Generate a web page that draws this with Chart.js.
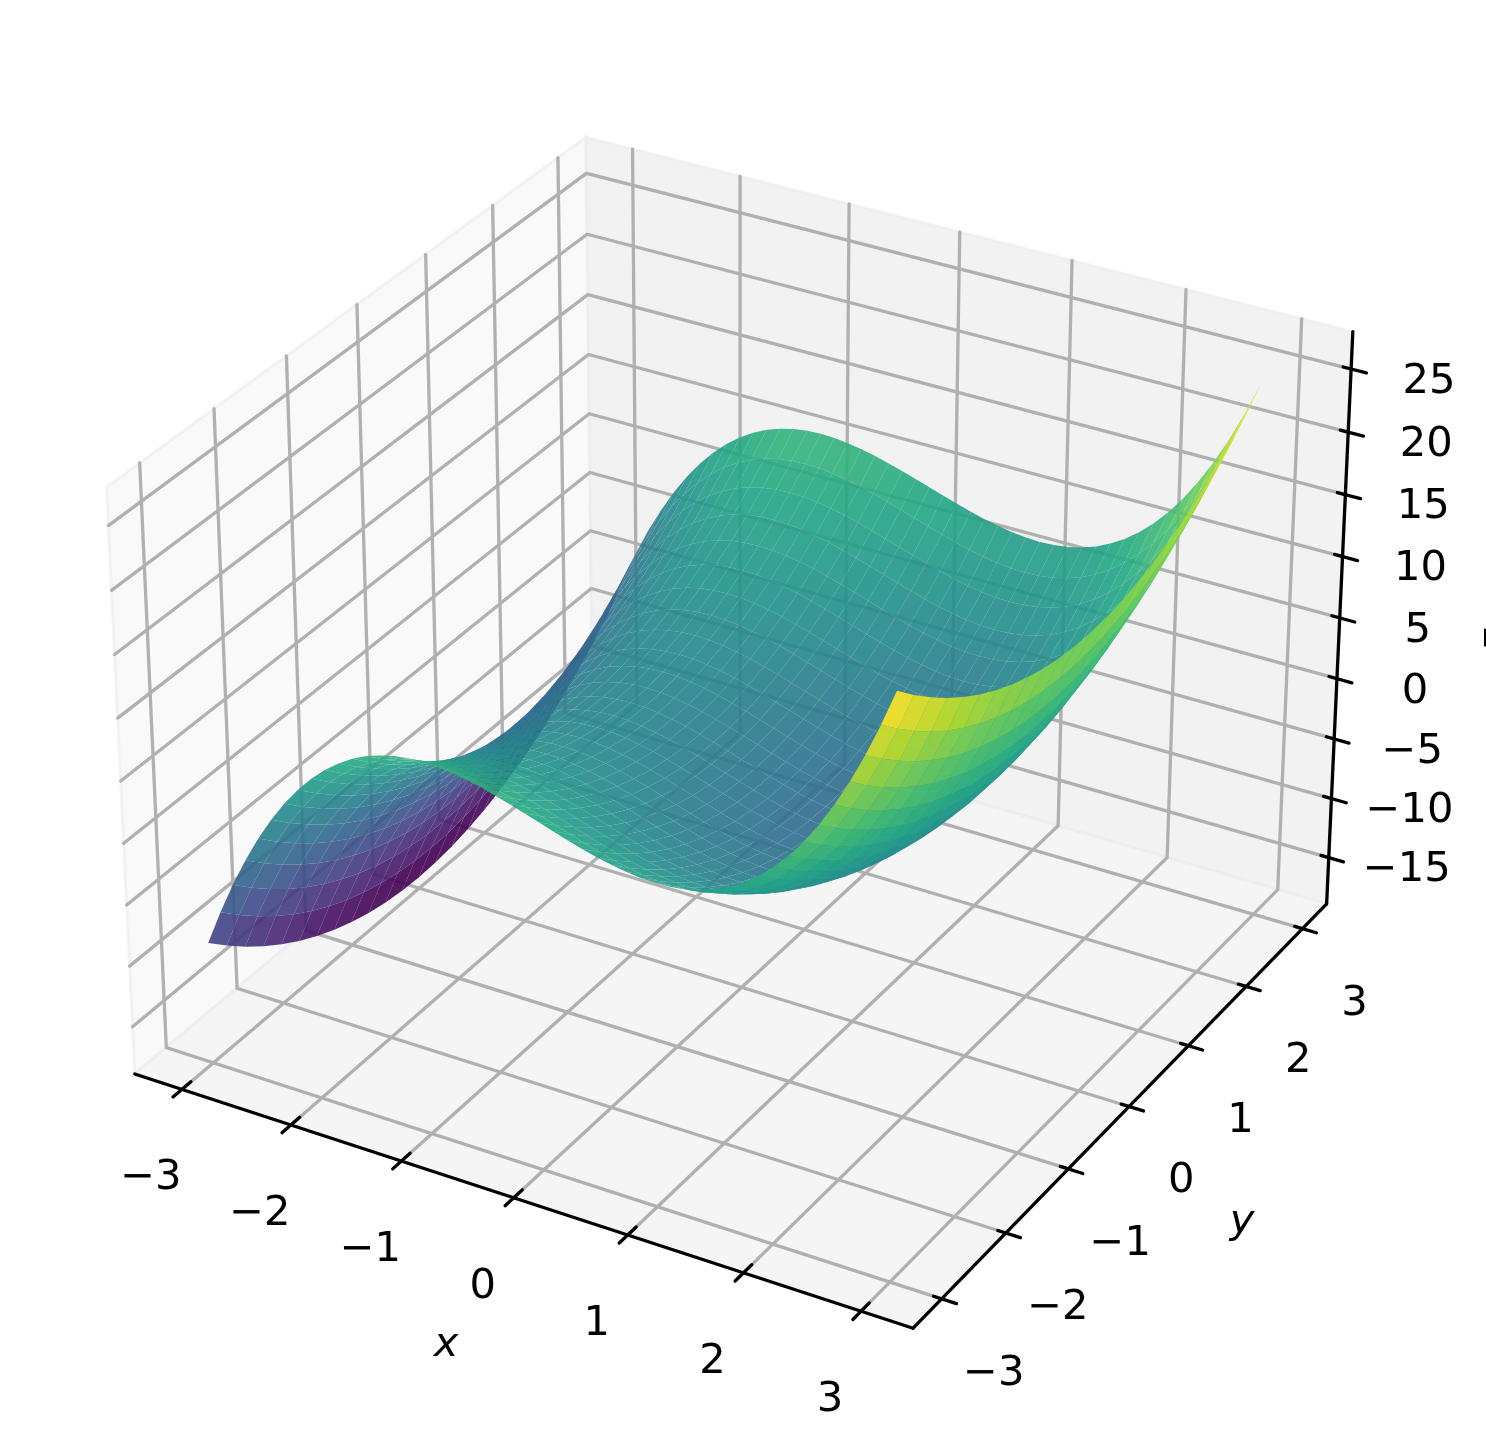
<!DOCTYPE html>
<html>
<head>
<meta charset="utf-8">
<style>
html, body { margin: 0; padding: 0; background: #fff; overflow: hidden; }
canvas { display: block; }
</style>
<script src="https://cdn.jsdelivr.net/npm/chart.js@4/dist/chart.umd.min.js"></script>
</head>
<body>
<canvas id="surface" width="1486" height="1452"></canvas>
<script>
const xValues = [-3, -2.875, -2.75, -2.625, -2.5, -2.375, -2.25, -2.125, -2, -1.875, -1.75, -1.625, -1.5, -1.375, -1.25, -1.125, -1, -0.875, -0.75, -0.625, -0.5, -0.375, -0.25, -0.125, 0, 0.125, 0.25, 0.375, 0.5, 0.625, 0.75, 0.875, 1, 1.125, 1.25, 1.375, 1.5, 1.625, 1.75, 1.875, 2, 2.125, 2.25, 2.375, 2.5, 2.625, 2.75, 2.875, 3];
const yValues = [-3, -2.75, -2.5, -2.25, -2, -1.75, -1.5, -1.25, -1, -0.75, -0.5, -0.25, 0, 0.25, 0.5, 0.75, 1, 1.25, 1.5, 1.75, 2, 2.25, 2.5, 2.75, 3];

// surface height, one row per x value, one column per y value
const zValues = [
    [-9, -10.44, -11.75, -12.94, -14, -14.94, -15.75, -16.44, -17, -17.44, -17.75, -17.94, -18, -17.94, -17.75, -17.44, -17, -16.44, -15.75, -14.94, -14, -12.94, -11.75, -10.44, -9],
    [-6.14, -7.58, -8.89, -10.08, -11.14, -12.08, -12.89, -13.58, -14.14, -14.58, -14.89, -15.08, -15.14, -15.08, -14.89, -14.58, -14.14, -13.58, -12.89, -12.08, -11.14, -10.08, -8.89, -7.58, -6.14],
    [-3.55, -4.99, -6.3, -7.49, -8.55, -9.49, -10.3, -10.99, -11.55, -11.99, -12.3, -12.49, -12.55, -12.49, -12.3, -11.99, -11.55, -10.99, -10.3, -9.49, -8.55, -7.49, -6.3, -4.99, -3.55],
    [-1.21, -2.65, -3.96, -5.15, -6.21, -7.15, -7.96, -8.65, -9.21, -9.65, -9.96, -10.15, -10.21, -10.15, -9.96, -9.65, -9.21, -8.65, -7.96, -7.15, -6.21, -5.15, -3.96, -2.65, -1.21],
    [0.87, -0.57, -1.88, -3.07, -4.13, -5.07, -5.88, -6.57, -7.13, -7.57, -7.88, -8.07, -8.13, -8.07, -7.88, -7.57, -7.13, -6.57, -5.88, -5.07, -4.13, -3.07, -1.88, -0.57, 0.87],
    [2.73, 1.29, -0.02, -1.21, -2.27, -3.21, -4.02, -4.71, -5.27, -5.71, -6.02, -6.21, -6.27, -6.21, -6.02, -5.71, -5.27, -4.71, -4.02, -3.21, -2.27, -1.21, -0.02, 1.29, 2.73],
    [4.36, 2.92, 1.61, 0.42, -0.64, -1.58, -2.39, -3.08, -3.64, -4.08, -4.39, -4.58, -4.64, -4.58, -4.39, -4.08, -3.64, -3.08, -2.39, -1.58, -0.64, 0.42, 1.61, 2.92, 4.36],
    [5.78, 4.34, 3.03, 1.84, 0.78, -0.16, -0.97, -1.66, -2.22, -2.66, -2.97, -3.16, -3.22, -3.16, -2.97, -2.66, -2.22, -1.66, -0.97, -0.16, 0.78, 1.84, 3.03, 4.34, 5.78],
    [7, 5.56, 4.25, 3.06, 2, 1.06, 0.25, -0.44, -1, -1.44, -1.75, -1.94, -2, -1.94, -1.75, -1.44, -1, -0.44, 0.25, 1.06, 2, 3.06, 4.25, 5.56, 7],
    [8.03, 6.59, 5.28, 4.09, 3.03, 2.09, 1.28, 0.59, 0.03, -0.41, -0.72, -0.91, -0.97, -0.91, -0.72, -0.41, 0.03, 0.59, 1.28, 2.09, 3.03, 4.09, 5.28, 6.59, 8.03],
    [8.89, 7.45, 6.14, 4.95, 3.89, 2.95, 2.14, 1.45, 0.89, 0.45, 0.14, -0.05, -0.11, -0.05, 0.14, 0.45, 0.89, 1.45, 2.14, 2.95, 3.89, 4.95, 6.14, 7.45, 8.89],
    [9.58, 8.14, 6.83, 5.64, 4.58, 3.64, 2.83, 2.14, 1.58, 1.14, 0.83, 0.64, 0.58, 0.64, 0.83, 1.14, 1.58, 2.14, 2.83, 3.64, 4.58, 5.64, 6.83, 8.14, 9.58],
    [10.13, 8.69, 7.38, 6.19, 5.13, 4.19, 3.38, 2.69, 2.13, 1.69, 1.38, 1.19, 1.13, 1.19, 1.38, 1.69, 2.13, 2.69, 3.38, 4.19, 5.13, 6.19, 7.38, 8.69, 10.13],
    [10.52, 9.08, 7.77, 6.58, 5.52, 4.58, 3.77, 3.08, 2.52, 2.08, 1.77, 1.58, 1.52, 1.58, 1.77, 2.08, 2.52, 3.08, 3.77, 4.58, 5.52, 6.58, 7.77, 9.08, 10.52],
    [10.8, 9.36, 8.05, 6.86, 5.8, 4.86, 4.05, 3.36, 2.8, 2.36, 2.05, 1.86, 1.8, 1.86, 2.05, 2.36, 2.8, 3.36, 4.05, 4.86, 5.8, 6.86, 8.05, 9.36, 10.8],
    [10.95, 9.51, 8.2, 7.01, 5.95, 5.01, 4.2, 3.51, 2.95, 2.51, 2.2, 2.01, 1.95, 2.01, 2.2, 2.51, 2.95, 3.51, 4.2, 5.01, 5.95, 7.01, 8.2, 9.51, 10.95],
    [11, 9.56, 8.25, 7.06, 6, 5.06, 4.25, 3.56, 3, 2.56, 2.25, 2.06, 2, 2.06, 2.25, 2.56, 3, 3.56, 4.25, 5.06, 6, 7.06, 8.25, 9.56, 11],
    [10.96, 9.52, 8.21, 7.02, 5.96, 5.02, 4.21, 3.52, 2.96, 2.52, 2.21, 2.02, 1.96, 2.02, 2.21, 2.52, 2.96, 3.52, 4.21, 5.02, 5.96, 7.02, 8.21, 9.52, 10.96],
    [10.83, 9.39, 8.08, 6.89, 5.83, 4.89, 4.08, 3.39, 2.83, 2.39, 2.08, 1.89, 1.83, 1.89, 2.08, 2.39, 2.83, 3.39, 4.08, 4.89, 5.83, 6.89, 8.08, 9.39, 10.83],
    [10.63, 9.19, 7.88, 6.69, 5.63, 4.69, 3.88, 3.19, 2.63, 2.19, 1.88, 1.69, 1.63, 1.69, 1.88, 2.19, 2.63, 3.19, 3.88, 4.69, 5.63, 6.69, 7.88, 9.19, 10.63],
    [10.38, 8.94, 7.63, 6.44, 5.38, 4.44, 3.63, 2.94, 2.38, 1.94, 1.63, 1.44, 1.38, 1.44, 1.63, 1.94, 2.38, 2.94, 3.63, 4.44, 5.38, 6.44, 7.63, 8.94, 10.38],
    [10.07, 8.63, 7.32, 6.13, 5.07, 4.13, 3.32, 2.63, 2.07, 1.63, 1.32, 1.13, 1.07, 1.13, 1.32, 1.63, 2.07, 2.63, 3.32, 4.13, 5.07, 6.13, 7.32, 8.63, 10.07],
    [9.73, 8.29, 6.98, 5.79, 4.73, 3.79, 2.98, 2.29, 1.73, 1.29, 0.98, 0.79, 0.73, 0.79, 0.98, 1.29, 1.73, 2.29, 2.98, 3.79, 4.73, 5.79, 6.98, 8.29, 9.73],
    [9.37, 7.93, 6.62, 5.43, 4.37, 3.43, 2.62, 1.93, 1.37, 0.93, 0.62, 0.43, 0.37, 0.43, 0.62, 0.93, 1.37, 1.93, 2.62, 3.43, 4.37, 5.43, 6.62, 7.93, 9.37],
    [9, 7.56, 6.25, 5.06, 4, 3.06, 2.25, 1.56, 1, 0.56, 0.25, 0.06, 0, 0.06, 0.25, 0.56, 1, 1.56, 2.25, 3.06, 4, 5.06, 6.25, 7.56, 9],
    [8.63, 7.19, 5.88, 4.69, 3.63, 2.69, 1.88, 1.19, 0.63, 0.19, -0.12, -0.31, -0.37, -0.31, -0.12, 0.19, 0.63, 1.19, 1.88, 2.69, 3.63, 4.69, 5.88, 7.19, 8.63],
    [8.27, 6.83, 5.52, 4.33, 3.27, 2.33, 1.52, 0.83, 0.27, -0.17, -0.48, -0.67, -0.73, -0.67, -0.48, -0.17, 0.27, 0.83, 1.52, 2.33, 3.27, 4.33, 5.52, 6.83, 8.27],
    [7.93, 6.49, 5.18, 3.99, 2.93, 1.99, 1.18, 0.49, -0.07, -0.51, -0.82, -1.01, -1.07, -1.01, -0.82, -0.51, -0.07, 0.49, 1.18, 1.99, 2.93, 3.99, 5.18, 6.49, 7.93],
    [7.62, 6.18, 4.87, 3.68, 2.62, 1.68, 0.87, 0.18, -0.38, -0.82, -1.13, -1.32, -1.38, -1.32, -1.13, -0.82, -0.38, 0.18, 0.87, 1.68, 2.62, 3.68, 4.87, 6.18, 7.62],
    [7.37, 5.93, 4.62, 3.43, 2.37, 1.43, 0.62, -0.07, -0.63, -1.07, -1.38, -1.57, -1.63, -1.57, -1.38, -1.07, -0.63, -0.07, 0.62, 1.43, 2.37, 3.43, 4.62, 5.93, 7.37],
    [7.17, 5.73, 4.42, 3.23, 2.17, 1.23, 0.42, -0.27, -0.83, -1.27, -1.58, -1.77, -1.83, -1.77, -1.58, -1.27, -0.83, -0.27, 0.42, 1.23, 2.17, 3.23, 4.42, 5.73, 7.17],
    [7.04, 5.6, 4.29, 3.1, 2.04, 1.1, 0.29, -0.4, -0.96, -1.4, -1.71, -1.9, -1.96, -1.9, -1.71, -1.4, -0.96, -0.4, 0.29, 1.1, 2.04, 3.1, 4.29, 5.6, 7.04],
    [7, 5.56, 4.25, 3.06, 2, 1.06, 0.25, -0.44, -1, -1.44, -1.75, -1.94, -2, -1.94, -1.75, -1.44, -1, -0.44, 0.25, 1.06, 2, 3.06, 4.25, 5.56, 7],
    [7.05, 5.61, 4.3, 3.11, 2.05, 1.11, 0.3, -0.39, -0.95, -1.39, -1.7, -1.89, -1.95, -1.89, -1.7, -1.39, -0.95, -0.39, 0.3, 1.11, 2.05, 3.11, 4.3, 5.61, 7.05],
    [7.2, 5.76, 4.45, 3.26, 2.2, 1.26, 0.45, -0.24, -0.8, -1.24, -1.55, -1.74, -1.8, -1.74, -1.55, -1.24, -0.8, -0.24, 0.45, 1.26, 2.2, 3.26, 4.45, 5.76, 7.2],
    [7.48, 6.04, 4.73, 3.54, 2.48, 1.54, 0.73, 0.04, -0.52, -0.96, -1.27, -1.46, -1.52, -1.46, -1.27, -0.96, -0.52, 0.04, 0.73, 1.54, 2.48, 3.54, 4.73, 6.04, 7.48],
    [7.87, 6.43, 5.12, 3.93, 2.87, 1.93, 1.12, 0.43, -0.13, -0.57, -0.88, -1.07, -1.13, -1.07, -0.88, -0.57, -0.13, 0.43, 1.12, 1.93, 2.87, 3.93, 5.12, 6.43, 7.87],
    [8.42, 6.98, 5.67, 4.48, 3.42, 2.48, 1.67, 0.98, 0.42, -0.02, -0.33, -0.52, -0.58, -0.52, -0.33, -0.02, 0.42, 0.98, 1.67, 2.48, 3.42, 4.48, 5.67, 6.98, 8.42],
    [9.11, 7.67, 6.36, 5.17, 4.11, 3.17, 2.36, 1.67, 1.11, 0.67, 0.36, 0.17, 0.11, 0.17, 0.36, 0.67, 1.11, 1.67, 2.36, 3.17, 4.11, 5.17, 6.36, 7.67, 9.11],
    [9.97, 8.53, 7.22, 6.03, 4.97, 4.03, 3.22, 2.53, 1.97, 1.53, 1.22, 1.03, 0.97, 1.03, 1.22, 1.53, 1.97, 2.53, 3.22, 4.03, 4.97, 6.03, 7.22, 8.53, 9.97],
    [11, 9.56, 8.25, 7.06, 6, 5.06, 4.25, 3.56, 3, 2.56, 2.25, 2.06, 2, 2.06, 2.25, 2.56, 3, 3.56, 4.25, 5.06, 6, 7.06, 8.25, 9.56, 11],
    [12.22, 10.78, 9.47, 8.28, 7.22, 6.28, 5.47, 4.78, 4.22, 3.78, 3.47, 3.28, 3.22, 3.28, 3.47, 3.78, 4.22, 4.78, 5.47, 6.28, 7.22, 8.28, 9.47, 10.78, 12.22],
    [13.64, 12.2, 10.89, 9.7, 8.64, 7.7, 6.89, 6.2, 5.64, 5.2, 4.89, 4.7, 4.64, 4.7, 4.89, 5.2, 5.64, 6.2, 6.89, 7.7, 8.64, 9.7, 10.89, 12.2, 13.64],
    [15.27, 13.83, 12.52, 11.33, 10.27, 9.33, 8.52, 7.83, 7.27, 6.83, 6.52, 6.33, 6.27, 6.33, 6.52, 6.83, 7.27, 7.83, 8.52, 9.33, 10.27, 11.33, 12.52, 13.83, 15.27],
    [17.13, 15.69, 14.38, 13.19, 12.13, 11.19, 10.38, 9.69, 9.13, 8.69, 8.38, 8.19, 8.13, 8.19, 8.38, 8.69, 9.13, 9.69, 10.38, 11.19, 12.13, 13.19, 14.38, 15.69, 17.13],
    [19.21, 17.77, 16.46, 15.27, 14.21, 13.27, 12.46, 11.77, 11.21, 10.77, 10.46, 10.27, 10.21, 10.27, 10.46, 10.77, 11.21, 11.77, 12.46, 13.27, 14.21, 15.27, 16.46, 17.77, 19.21],
    [21.55, 20.11, 18.8, 17.61, 16.55, 15.61, 14.8, 14.11, 13.55, 13.11, 12.8, 12.61, 12.55, 12.61, 12.8, 13.11, 13.55, 14.11, 14.8, 15.61, 16.55, 17.61, 18.8, 20.11, 21.55],
    [24.14, 22.7, 21.39, 20.2, 19.14, 18.2, 17.39, 16.7, 16.14, 15.7, 15.39, 15.2, 15.14, 15.2, 15.39, 15.7, 16.14, 16.7, 17.39, 18.2, 19.14, 20.2, 21.39, 22.7, 24.14],
    [27, 25.56, 24.25, 23.06, 22, 21.06, 20.25, 19.56, 19, 18.56, 18.25, 18.06, 18, 18.06, 18.25, 18.56, 19, 19.56, 20.25, 21.06, 22, 23.06, 24.25, 25.56, 27]
];

const xTicks = [-3, -2, -1, 0, 1, 2, 3];
const yTicks = [-3, -2, -1, 0, 1, 2, 3];
const zTicks = [-15, -10, -5, 0, 5, 10, 15, 20, 25];

const viridis = ['#440154', '#482475', '#414487', '#355f8d', '#2a788e', '#21918c', '#22a884', '#44bf70', '#7ad151', '#bddf26', '#fde725'];

// extent of the panes in data units
const xLim = [-3.4375, 3.4375];
const yLim = [-3.4375, 3.4375];
const zLim = [-18.94, 27.94];

// matplotlib's default 3d camera: elev 30, azim -60, dist 10
const box = [1.1905, 1.1905, 0.8929];
const right = [0.866, 0.5, 0];
const up = [-0.25, 0.433, 0.866];
const toEye = [0.433, -0.75, 0.5];

function dot(a, b) {
    return a[0] * b[0] + a[1] * b[1] + a[2] * b[2];
}

function depth(u, v, w) {
    return 10 - dot(toEye, [(u - 0.5) * box[0], (v - 0.5) * box[1], (w - 0.5) * box[2]]);
}

// u, v, w are 0..1 along the box, the result is a page position for the hidden scales
function projectBox(u, v, w) {
    const p = [(u - 0.5) * box[0], (v - 0.5) * box[1], (w - 0.5) * box[2]];
    const d = 10 - dot(toEye, p);
    return {x: 741.7 + 7490 * dot(right, p) / d, y: 704.1 - 7490 * dot(up, p) / d};
}

const fx = x => (x - xLim[0]) / (xLim[1] - xLim[0]);
const fy = y => (y - yLim[0]) / (yLim[1] - yLim[0]);
const fz = z => (z - zLim[0]) / (zLim[1] - zLim[0]);

function colourAt(t) {
    const pos = Math.min(Math.max(t, 0), 1) * (viridis.length - 1);
    const i = Math.min(Math.floor(pos), viridis.length - 2);
    const a = parseInt(viridis[i].slice(1), 16), b = parseInt(viridis[i + 1].slice(1), 16);
    const mix = s => Math.round((a >> s & 255) + ((b >> s & 255) - (a >> s & 255)) * (pos - i));
    return 'rgba(' + mix(16) + ',' + mix(8) + ',' + mix(0) + ',0.9)';
}

let layers = [];

function addPane(corners, colour) {
    const pts = corners.concat([corners[0]]).map(c => projectBox(c[0], c[1], c[2]));
    layers.push({data: pts, showLine: true, pointRadius: 0, fill: 'shape', backgroundColor: colour, borderColor: 'rgba(235,235,235,0.6)', borderWidth: 3});
}

function addLine(corners, colour, width) {
    layers.push({data: corners.map(c => projectBox(c[0], c[1], c[2])), showLine: true, pointRadius: 0, fill: false, borderColor: colour, borderWidth: width, borderCapStyle: 'round', borderJoinStyle: 'miter'});
}

addPane([[0, 0, 0], [0, 1, 0], [0, 1, 1], [0, 0, 1]], '#f9f9f9');
addPane([[0, 1, 0], [1, 1, 0], [1, 1, 1], [0, 1, 1]], '#f2f2f2');
addPane([[0, 0, 0], [1, 0, 0], [1, 1, 0], [0, 1, 0]], '#f5f5f5');

const gridColour = '#b0b0b0';
xTicks.forEach(t => addLine([[fx(t), 0, 0], [fx(t), 1, 0], [fx(t), 1, 1]], gridColour, 3.3));
yTicks.forEach(t => addLine([[1, fy(t), 0], [0, fy(t), 0], [0, fy(t), 1]], gridColour, 3.3));
zTicks.forEach(t => addLine([[0, 0, fz(t)], [0, 1, fz(t)], [1, 1, fz(t)]], gridColour, 3.3));

addLine([[0, 0, 0], [1, 0, 0]], '#000', 3.3);
addLine([[1, 0, 0], [1, 1, 0]], '#000', 3.3);
addLine([[1, 1, 0], [1, 1, 1]], '#000', 3.3);

xTicks.forEach(t => addLine([[fx(t), 0.018, 0], [fx(t), -0.018, 0]], '#000', 3.3));
yTicks.forEach(t => addLine([[0.99, fy(t), 0], [1.018, fy(t), 0]], '#000', 3.3));
zTicks.forEach(t => addLine([[0.99, 1, fz(t)], [1.019, 1, fz(t)]], '#000', 3.3));

// surface cells, painted far to near
let cells = [];
for (let i = 0; i < xValues.length - 1; i++) {
    for (let j = 0; j < yValues.length - 1; j++) {
        const c = [[i, j], [i + 1, j], [i + 1, j + 1], [i, j + 1]];
        let mean = 0, far = 0;
        const pts = c.map(([a, b]) => {
            const u = fx(xValues[a]), v = fy(yValues[b]), w = fz(zValues[a][b]);
            mean += zValues[a][b] / 4;
            far += depth(u, v, w) / 4;
            return projectBox(u, v, w);
        });
        pts.push(pts[0]);
        cells.push({pts, mean, far});
    }
}
const zLow = Math.min(...cells.map(c => c.mean));
const zHigh = Math.max(...cells.map(c => c.mean));
cells.sort((a, b) => b.far - a.far);
cells.forEach(c => {
    layers.push({data: c.pts, showLine: true, pointRadius: 0, fill: 'shape', backgroundColor: colourAt((c.mean - zLow) / (zHigh - zLow)), borderWidth: 0});
});

// chart.js paints the highest order first
const datasets = layers.map((l, i) => Object.assign(l, {order: layers.length - i}));

const fmt = t => String(t).replace('-', '\u2212');

const axisText = {
    id: 'axisText',
    afterDraw(chart) {
        const {ctx, scales} = chart;
        const put = (text, p, dx, dy, font, angle) => {
            ctx.save();
            ctx.translate(scales.x.getPixelForValue(p.x) + dx, scales.y.getPixelForValue(p.y) + dy);
            if (angle) ctx.rotate(angle);
            ctx.font = font;
            ctx.fillStyle = '#000';
            ctx.textAlign = 'center';
            ctx.textBaseline = 'middle';
            ctx.fillText(text, 0, 0);
            ctx.restore();
        };
        const tickFont = '41.67px "DejaVu Sans"';
        const nameFont = 'italic 41.67px "DejaVu Sans"';
        xTicks.forEach(t => put(fmt(t), projectBox(fx(t), 0, 0), -31, 89, tickFont));
        yTicks.forEach(t => put(fmt(t), projectBox(1, fy(t), 0), 52, 75, tickFont));
        zTicks.forEach(t => put(fmt(t), projectBox(1, 1, fz(t)), 78, 13, tickFont));
        put('x', {x: 446, y: 1345}, 0, 0, nameFont);
        put('y', {x: 1242, y: 1222}, 0, 0, nameFont);
        put('z', {x: 1495, y: 640}, 0, 0, nameFont, -Math.PI / 2);
    }
};

new Chart(document.getElementById('surface'), {
    type: 'scatter',
    data: {datasets: datasets},
    plugins: [axisText],
    options: {
        responsive: false,
        animation: false,
        events: [],
        layout: {padding: 0},
        elements: {line: {tension: 0}},
        scales: {
            x: {type: 'linear', min: 0, max: 1486, display: false},
            y: {type: 'linear', min: 0, max: 1452, reverse: true, display: false}
        },
        plugins: {legend: {display: false}, tooltip: {enabled: false}, title: {display: false}}
    }
});
</script>
</body>
</html>
